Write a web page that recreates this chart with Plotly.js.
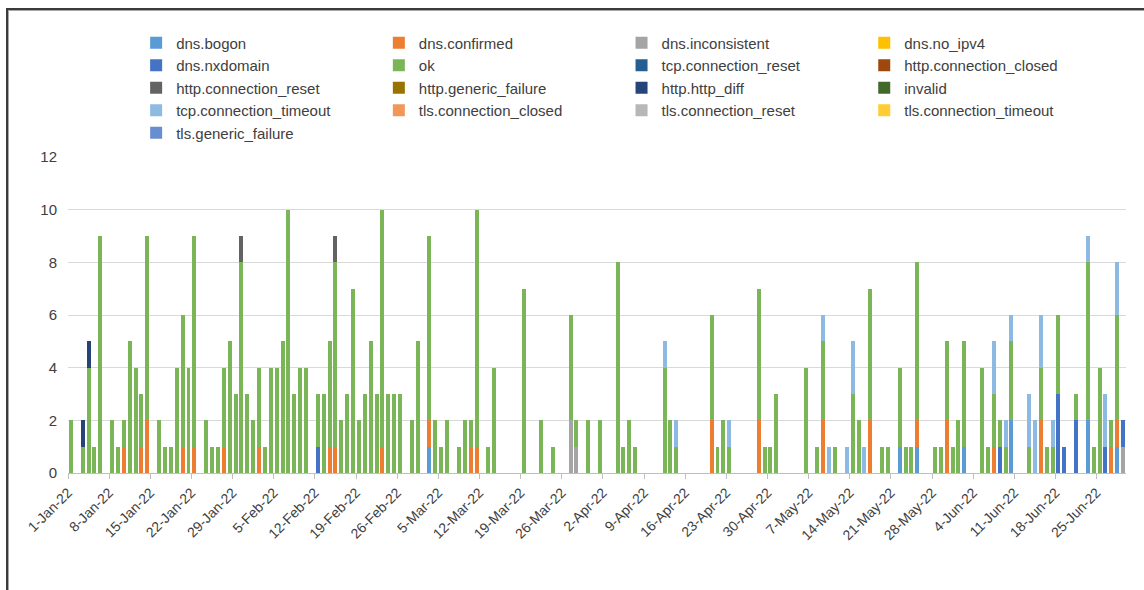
<!DOCTYPE html>
<html>
<head>
<meta charset="utf-8">
<script src="https://cdn.plot.ly/plotly-3.0.1.min.js"></script>
<style>
  html, body { margin: 0; padding: 0; background: #ffffff; }
  #wrap { position: relative; width: 1144px; height: 590px; }
  #chart { width: 1144px; height: 590px; }
  #frame { position: absolute; left: 6px; top: 8px; width: 1138px; height: 582px;
           border-top: 2px solid #3a3a3a; border-left: 2px solid #3a3a3a;
           box-shadow: inset 1px 1px 0 #a8a8a8; pointer-events: none; }
</style>
</head>
<body>
<div id="wrap"><div id="chart"></div><div id="frame"></div></div>
<script>
// ---- Series names (legend order) ----
const seriesNames = [
  'dns.bogon', 'dns.confirmed', 'dns.inconsistent', 'dns.no_ipv4',
  'dns.nxdomain', 'ok', 'tcp.connection_reset', 'http.connection_closed',
  'http.connection_reset', 'http.generic_failure', 'http.http_diff', 'invalid',
  'tcp.connection_timeout', 'tls.connection_closed', 'tls.connection_reset', 'tls.connection_timeout',
  'tls.generic_failure'
];
const seriesColors = [
  '#5B9BD5', '#ED7D31', '#A5A5A5', '#FFC000',
  '#4472C4', '#7AB557', '#255E91', '#9E480E',
  '#636363', '#997300', '#264478', '#43682B',
  '#8DBAE2', '#F1975A', '#B7B7B7', '#FFCD33',
  '#698ED0'
];

// ---- Daily counts per outcome (only days with a non-zero count) ----
const okDates = [
  '2022-01-01','2022-01-03','2022-01-04','2022-01-05','2022-01-06','2022-01-08','2022-01-09','2022-01-10','2022-01-11','2022-01-12',
  '2022-01-13','2022-01-14','2022-01-16','2022-01-17','2022-01-18','2022-01-19','2022-01-20','2022-01-21','2022-01-22','2022-01-24',
  '2022-01-25','2022-01-26','2022-01-27','2022-01-28','2022-01-29','2022-01-30','2022-01-31',
  '2022-02-01','2022-02-02','2022-02-03','2022-02-04','2022-02-05','2022-02-06','2022-02-07','2022-02-08','2022-02-09','2022-02-10',
  '2022-02-12','2022-02-13','2022-02-14','2022-02-15','2022-02-16','2022-02-17','2022-02-18','2022-02-19','2022-02-20','2022-02-21',
  '2022-02-22','2022-02-23','2022-02-24','2022-02-25','2022-02-26','2022-02-28',
  '2022-03-01','2022-03-03','2022-03-04','2022-03-05','2022-03-06','2022-03-08','2022-03-09','2022-03-10','2022-03-11','2022-03-13',
  '2022-03-14','2022-03-19','2022-03-22','2022-03-24','2022-03-27','2022-03-28','2022-03-30',
  '2022-04-01','2022-04-04','2022-04-05','2022-04-06','2022-04-07','2022-04-12','2022-04-13','2022-04-14','2022-04-20','2022-04-21',
  '2022-04-22','2022-04-23','2022-04-28','2022-04-29','2022-04-30',
  '2022-05-01','2022-05-06','2022-05-08','2022-05-09','2022-05-11','2022-05-14','2022-05-15','2022-05-17','2022-05-19','2022-05-20',
  '2022-05-22','2022-05-23','2022-05-24','2022-05-25','2022-05-28','2022-05-29','2022-05-30','2022-05-31',
  '2022-06-01','2022-06-02','2022-06-05','2022-06-06','2022-06-07','2022-06-08','2022-06-09','2022-06-10','2022-06-13','2022-06-15',
  '2022-06-16','2022-06-17','2022-06-18','2022-06-21','2022-06-23','2022-06-24','2022-06-25','2022-06-27','2022-06-28'
];
const okCounts = [
  2,1,4,1,9,2,1,1,5,4,
  2,7,2,1,1,4,5,4,8,2,
  1,1,3,5,3,8,3,
  2,3,1,4,4,5,10,3,4,4,
  2,3,4,7,2,3,7,2,3,5,
  3,9,3,3,3,2,
  5,7,2,1,2,1,2,1,9,1,
  4,7,2,1,4,1,2,
  2,8,1,2,1,4,2,1,4,1,
  2,1,5,1,1,
  3,4,1,3,1,3,2,5,1,1,
  3,1,1,6,1,1,3,1,
  2,4,4,1,2,1,1,3,1,2,
  1,1,3,1,6,1,4,1,4
];

const confirmedDates = [
  '2022-01-10','2022-01-13','2022-01-14','2022-01-20','2022-01-22','2022-01-27',
  '2022-02-02','2022-02-14','2022-02-15','2022-02-23',
  '2022-03-03','2022-03-10','2022-03-11',
  '2022-04-20','2022-04-28',
  '2022-05-09','2022-05-17','2022-05-25','2022-05-30',
  '2022-06-07','2022-06-15','2022-06-27','2022-06-28'
];
const confirmedCounts = [1,1,2,1,1,1, 1,1,1,1, 1,1,1, 2,2, 2,2,1,2, 1,2,1,1];

const bogonDates = ['2022-03-03','2022-05-22','2022-05-25','2022-06-02','2022-06-10','2022-06-23','2022-06-28'];
const bogonCounts = [1,1,1,1,2,2,1];

const inconsistentDates = ['2022-03-27','2022-03-28','2022-06-29'];
const inconsistentCounts = [2,1,1];

const nxdomainDates = ['2022-02-12','2022-06-08','2022-06-18','2022-06-19','2022-06-21','2022-06-26','2022-06-29'];
const nxdomainCounts = [1,1,3,1,2,1,1];

const httpResetDates = ['2022-01-30','2022-02-15'];
const httpResetCounts = [1,1];

const httpDiffDates = ['2022-01-03','2022-01-04'];
const httpDiffCounts = [1,1];

const tcpTimeoutDates = [
  '2022-04-12','2022-04-14','2022-04-23',
  '2022-05-09','2022-05-10','2022-05-13','2022-05-14','2022-05-16',
  '2022-06-07','2022-06-09','2022-06-10','2022-06-13','2022-06-14','2022-06-15','2022-06-17','2022-06-23','2022-06-26','2022-06-28'
];
const tcpTimeoutCounts = [1,1,1, 1,1,1,2,1, 2,1,1,2,2,2,1,1,2,2];

// outcomes with no occurrences in the period
const noDates = [];
const noCounts = [];

const seriesData = {
  'dns.bogon': [bogonDates, bogonCounts],
  'dns.confirmed': [confirmedDates, confirmedCounts],
  'dns.inconsistent': [inconsistentDates, inconsistentCounts],
  'dns.nxdomain': [nxdomainDates, nxdomainCounts],
  'ok': [okDates, okCounts],
  'http.connection_reset': [httpResetDates, httpResetCounts],
  'http.http_diff': [httpDiffDates, httpDiffCounts],
  'tcp.connection_timeout': [tcpTimeoutDates, tcpTimeoutCounts]
};

// axis settings
const xStart = '2022-01-01';
const xEnd = '2022-06-30';
const yTicks = [0, 2, 4, 6, 8, 10, 12];

const DAY = 86400000;
const traces = seriesNames.map((name, i) => {
  const d = seriesData[name] || [noDates, noCounts];
  return {
    type: 'bar',
    name: name,
    x: d[0].length ? d[0] : [null],
    y: d[1].length ? d[1] : [null],
    xperiod: DAY,
    xperiodalignment: 'middle',
    width: 0.68 * DAY,
    marker: { color: seriesColors[i], line: { width: 0 } },
    hovertemplate: '%{x|%-d-%b-%y}<br>' + name + ': %{y}<extra></extra>'
  };
});

const layout = {
  width: 1144,
  height: 590,
  margin: { l: 68, r: 18, t: 157, b: 117, pad: 0, autoexpand: false },
  barmode: 'stack',
  paper_bgcolor: '#ffffff',
  plot_bgcolor: '#ffffff',
  font: { family: '"Liberation Sans", Arial, sans-serif', color: '#404040', size: 14 },
  showlegend: true,
  legend: {
    orientation: 'h',
    xref: 'container', yref: 'container',
    x: 0.119, y: 0.955, xanchor: 'left', yanchor: 'top',
    entrywidth: 197.7, entrywidthmode: 'pixels',
    traceorder: 'normal',
    font: { size: 15, color: '#404040' },
    bgcolor: 'rgba(0,0,0,0)',
    borderwidth: 0
  },
  xaxis: {
    type: 'date',
    range: [xStart, xEnd],
    tick0: xStart,
    dtick: 7 * DAY,
    tickformat: '%-d-%b-%y',
    tickangle: -45,
    ticks: 'outside',
    ticklen: 5,
    tickwidth: 1,
    tickcolor: '#bfbfbf',
    showline: true,
    linecolor: '#bfbfbf',
    linewidth: 1,
    showgrid: false,
    zeroline: false,
    tickfont: { size: 14, color: '#404040' },
    fixedrange: true
  },
  yaxis: {
    range: [0, 12],
    tickmode: 'array',
    tickvals: yTicks,
    ticktext: yTicks.map(String),
    showgrid: true,
    gridcolor: '#d9d9d9',
    gridwidth: 1,
    zeroline: false,
    showline: false,
    ticks: '',
    ticklabelstandoff: 10,
    tickfont: { size: 15, color: '#404040' },
    fixedrange: true
  }
};

Plotly.newPlot('chart', traces, layout, { displayModeBar: false, staticPlot: false, responsive: false });
</script>
</body>
</html>
